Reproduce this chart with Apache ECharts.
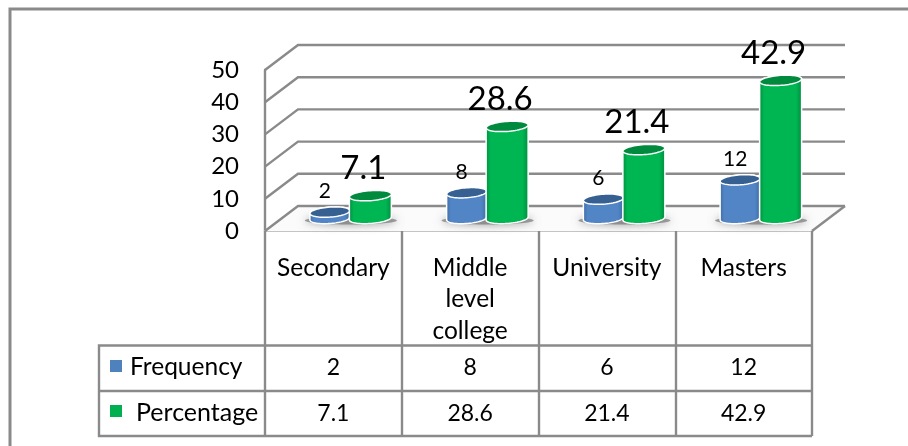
<!DOCTYPE html>
<html><head><meta charset="utf-8">
<style>html,body{margin:0;padding:0;background:#fff}#c{width:908px;height:446px}</style>
<script src="https://cdn.jsdelivr.net/npm/echarts@6/dist/echarts.min.js"></script>
</head><body><div id="c"></div>
<script>
var categories = ['Secondary', 'Middle\nlevel\ncollege', 'University', 'Masters'];
var frequency = [2, 8, 6, 12];
var percentage = [7.1, 28.6, 21.4, 42.9];
var tickValues = [0, 10, 20, 30, 40, 50];
var seriesNames = ['Frequency', 'Percentage'];

var FONT = 'Lato';
var LINE = '#8a8a8a';
var DX = 33, DY = -25;            // depth of the 3D box
var BLUE = {mid:'#5285c6', edge:'#3d6a9f', top:'#376092'};
var GREEN = {mid:'#00b652', edge:'#008a3e', top:'#008a3e'};

function cylinder(params, api, conf) {
  var i = api.value(0), v = api.value(1);
  var base = api.coord([i, 0]), top = api.coord([i, v]);
  var cx = base[0] + DX / 2 + conf.shift;
  var yb = base[1] + DY / 2, yt = top[1] + DY / 2;
  var rx = conf.rx, ry = 5, tilt = 0.07;
  function pt(t, cy) {
    var c = Math.cos(t);
    return [cx + rx * c, cy + ry * Math.sin(t) - rx * c * tilt];
  }
  var body = [], cap = [], n = 32, k;
  for (k = 0; k <= n; k++) body.push(pt(Math.PI + Math.PI * k / n, yt));
  for (k = 0; k <= n; k++) body.push(pt(Math.PI * k / n, yb));
  for (k = 0; k < 2 * n; k++) cap.push(pt(Math.PI * k / n, yt));
  var grad = new echarts.graphic.LinearGradient(0, 0, 1, 0, [
    {offset: 0, color: conf.c.edge}, {offset: 0.12, color: conf.c.mid},
    {offset: 0.85, color: conf.c.mid}, {offset: 1, color: conf.c.edge}
  ]);
  return {type: 'group', children: [
    {type: 'polygon', shape: {points: body}, style: {fill: grad, stroke: '#fff', lineWidth: 1.5}},
    {type: 'polygon', shape: {points: cap}, style: {fill: conf.c.top, stroke: '#fff', lineWidth: 1.5}},
    {type: 'text', x: cx + conf.lx, y: yt + conf.ly, style: {
      text: String(v), fill: '#000', font: conf.fs + 'px ' + FONT, align: 'center', verticalAlign: 'middle'}}
  ]};
}

var option = {
  animation: false,
  backgroundColor: '#fff',
  textStyle: {fontFamily: FONT},
  grid: {left: 265, right: 96, top: 70, bottom: 215},
  xAxis: {
    type: 'category', data: categories,
    axisLine: {show: true, lineStyle: {color: '#c4c4c4', width: 2}},
    axisTick: {show: true, length: 205, lineStyle: {color: LINE, width: 2.4}},
    axisLabel: {color: '#000', fontSize: 24.5, fontFamily: FONT, lineHeight: 31.5, margin: 21, interval: 0}
  },
  yAxis: {
    type: 'value', min: 0, max: 50, interval: 10,
    axisLine: {show: true, lineStyle: {color: LINE, width: 2.4}},
    axisTick: {show: false}, splitLine: {show: false},
    axisLabel: {color: '#000', fontSize: 24, fontFamily: FONT, margin: 26, padding: [2, 0, 0, 0]}
  },
  series: [
    {type: 'custom', name: 'walls', z: 1, silent: true, data: tickValues.map(function (v) { return [0, v]; }),
     encode: {x: 0, y: 1},
     renderItem: function (params, api) {
       var cs = params.coordSys, y = api.coord([0, api.value(1)])[1], x0 = cs.x, x1 = cs.x + cs.width;
       var kids = [{type: 'polyline',
         shape: {points: [[x0, y], [x0 + DX, y + DY], [x1 + DX, y + DY]]},
         style: {stroke: LINE, lineWidth: 2.4, fill: null}}];
       if (api.value(1) === 0) {
         kids.unshift({type: 'polygon',
           shape: {points: [[x0, y], [x0 + DX, y + DY], [x1 + DX, y + DY], [x1, y]]},
           style: {fill: '#fbfbfb'}});
         kids.push({type: 'line', shape: {x1: x1, y1: y, x2: x1 + DX, y2: y + DY},
           style: {stroke: LINE, lineWidth: 2.4}});
       }
       return {type: 'group', children: kids};
     }},
    {type: 'custom', name: 'shadow', z: 2, silent: true, data: categories.map(function (c, i) { return [i, 0]; }),
     encode: {x: 0, y: 1},
     renderItem: function (params, api) {
       var p = api.coord([api.value(0), 0]);
       return {type: 'ellipse', shape: {cx: p[0] + DX / 2 + 1, cy: p[1] + DY / 2 + 2, rx: 46, ry: 4},
         style: {fill: 'rgba(120,120,120,0.7)', shadowColor: 'rgba(110,110,110,1)', shadowBlur: 8}};
     }},
    {type: 'custom', name: seriesNames[0], z: 3, data: frequency.map(function (v, i) { return [i, v]; }),
     encode: {x: 0, y: 1},
     renderItem: function (params, api) {
       return cylinder(params, api, {shift: -20, rx: 20, c: BLUE, lx: -5, ly: -21, fs: 21});
     }},
    {type: 'custom', name: seriesNames[1], z: 4, data: percentage.map(function (v, i) { return [i, v]; }),
     encode: {x: 0, y: 1},
     renderItem: function (params, api) {
       return cylinder(params, api, {shift: 20.5, rx: 21, c: GREEN, lx: -7, ly: -27, fs: 33});
     }},
    {type: 'custom', name: 'table', z: 5, silent: true,
     data: categories.map(function (c, i) { return [i, 0, frequency[i], percentage[i]]; }),
     encode: {x: 0, y: 1},
     renderItem: function (params, api) {
       var x = api.coord([api.value(0), 0])[0];
       function cell(text, y) {
         return {type: 'text', x: x, y: y, style: {text: String(text), fill: '#000',
           font: '23px ' + FONT, align: 'center', verticalAlign: 'middle'}};
       }
       return {type: 'group', children: [cell(api.value(2), 368), cell(api.value(3), 414)]};
     }}
  ],
  graphic: {elements: [
    {type: 'polyline', z: 0, silent: true, shape: {points: [[10, 446], [10, 9], [908, 9]]},
     style: {stroke: LINE, lineWidth: 3, fill: null}},
    {type: 'polyline', z: 0, silent: true, shape: {points: [[265, 345.5], [99, 345.5], [99, 436], [812, 436]]},
     style: {stroke: LINE, lineWidth: 2.4, fill: null}},
    {type: 'line', silent: true, shape: {x1: 99, y1: 391, x2: 812, y2: 391}, style: {stroke: LINE, lineWidth: 2.4}},
    {type: 'line', silent: true, shape: {x1: 265, y1: 345.5, x2: 812, y2: 345.5}, style: {stroke: LINE, lineWidth: 2.4}},
    {type: 'rect', silent: true, shape: {x: 110, y: 360, width: 12, height: 12}, style: {fill: '#4f81bd'}},
    {type: 'rect', silent: true, shape: {x: 110, y: 405, width: 12, height: 12}, style: {fill: '#00b050'}},
    {type: 'text', silent: true, x: 130, y: 367, style: {text: seriesNames[0], fill: '#000', font: '24.5px ' + FONT, align: 'left', verticalAlign: 'middle'}},
    {type: 'text', silent: true, x: 136, y: 413, style: {text: seriesNames[1], fill: '#000', font: '25px ' + FONT, align: 'left', verticalAlign: 'middle'}}
  ]}
};
var chart = echarts.init(document.getElementById('c'), null, {renderer: 'canvas'});
chart.setOption(option);
</script></body></html>
